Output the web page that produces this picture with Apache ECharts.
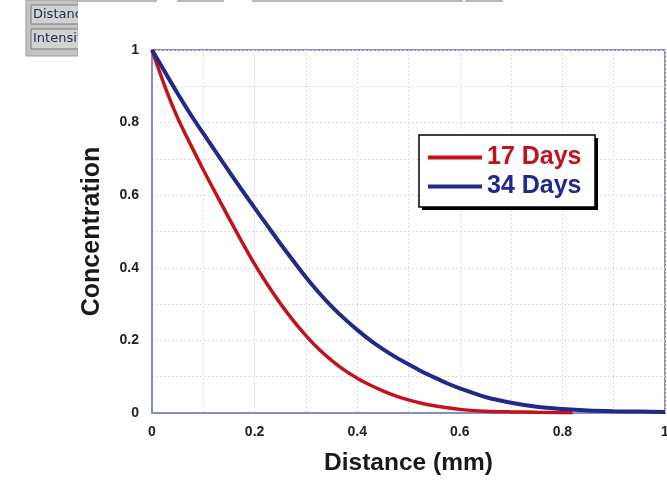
<!DOCTYPE html>
<html>
<head>
<meta charset="utf-8">
<script src="https://cdn.jsdelivr.net/npm/echarts@6/dist/echarts.min.js"></script>
<style>
html,body{margin:0;padding:0;background:#fff;}
#chart{width:667px;height:482px;}
</style>
</head>
<body>
<div id="chart"></div>
<script>
// Data
const seriesNames = ['17 Days', '34 Days'];
const distance17 = [0, 0.025, 0.05, 0.075, 0.1, 0.125, 0.15, 0.175, 0.2, 0.225, 0.25, 0.275, 0.3, 0.325, 0.35, 0.375, 0.4, 0.425, 0.45, 0.475, 0.5, 0.525, 0.55, 0.6, 0.65, 0.7, 0.75, 0.82];
const conc17     = [1, 0.9, 0.813, 0.74, 0.67, 0.603, 0.537, 0.472, 0.41, 0.354, 0.302, 0.255, 0.213, 0.176, 0.145, 0.118, 0.096, 0.077, 0.061, 0.047, 0.036, 0.027, 0.02, 0.01, 0.005, 0.003, 0.002, 0.001];
const distance34 = [0, 0.025, 0.05, 0.075, 0.1, 0.125, 0.15, 0.175, 0.2, 0.225, 0.25, 0.275, 0.3, 0.325, 0.35, 0.375, 0.4, 0.425, 0.45, 0.475, 0.5, 0.525, 0.55, 0.575, 0.6, 0.65, 0.7, 0.75, 0.8, 0.85, 0.9, 0.95, 1.0];
const conc34     = [1, 0.94, 0.88, 0.823, 0.77, 0.718, 0.666, 0.615, 0.565, 0.516, 0.467, 0.42, 0.374, 0.332, 0.294, 0.26, 0.229, 0.201, 0.176, 0.154, 0.134, 0.115, 0.098, 0.082, 0.068, 0.044, 0.028, 0.017, 0.011, 0.007, 0.005, 0.004, 0.003];
const xTickLabels = ['0', '0.2', '0.4', '0.6', '0.8', '1'];
const yTickLabels = ['0', '0.2', '0.4', '0.6', '0.8', '1'];
const panelLabels = ['Distance', 'Intensity'];

const RED = '#c4121c';
const BLUE = '#22298a';
const AXIS = '#8a8cc4';
const FONT = '"Liberation Sans", Arial, sans-serif';

function pairs(xs, ys) { return xs.map((x, i) => [x, ys[i]]); }
function tickFmt(labels) {
  return function (v) {
    const k = Math.round(v * 10);
    return (k % 2 === 0) ? labels[k / 2] : '';
  };
}

const chart = echarts.init(document.getElementById('chart'), null, {renderer: 'canvas'});

const graphics = [
  // gray panel at top-left
  {type: 'rect', shape: {x: 26, y: 0, width: 52, height: 56}, style: {fill: '#c4c4c4', stroke: '#9a9a9a', lineWidth: 1}, z: 100},
  {type: 'rect', shape: {x: 31, y: 5, width: 60, height: 19}, style: {fill: '#d2d2d2', stroke: '#7a7a7a', lineWidth: 1}, z: 101},
  {type: 'rect', shape: {x: 31, y: 29, width: 60, height: 20}, style: {fill: '#d2d2d2', stroke: '#7a7a7a', lineWidth: 1}, z: 101},
  {type: 'text', x: 33, y: 15, style: {text: panelLabels[0], fill: '#1c2b4a', font: '13px "DejaVu Sans", sans-serif', verticalAlign: 'middle'}, z: 102},
  {type: 'text', x: 33, y: 39, style: {text: panelLabels[1], fill: '#1c2b4a', font: '13px "DejaVu Sans", sans-serif', verticalAlign: 'middle'}, z: 102},
  // white area covering the panel overflow
  {type: 'rect', shape: {x: 78, y: 2, width: 46, height: 56}, style: {fill: '#ffffff'}, z: 103},
  // thin strip of boxes at the very top
  {type: 'rect', shape: {x: 78, y: 0, width: 79, height: 2}, style: {fill: '#b8b8b8'}, z: 104},
  {type: 'rect', shape: {x: 177, y: 0, width: 47, height: 2}, style: {fill: '#b8b8b8'}, z: 104},
  {type: 'rect', shape: {x: 252, y: 0, width: 211, height: 2}, style: {fill: '#b8b8b8'}, z: 104},
  {type: 'rect', shape: {x: 465, y: 0, width: 38, height: 2}, style: {fill: '#b8b8b8'}, z: 104},
  // legend frame with hard black shadow
  {type: 'rect', shape: {x: 422, y: 138, width: 176, height: 72}, style: {fill: '#000000'}, z: 1},
  {type: 'rect', shape: {x: 419, y: 135, width: 176, height: 72}, style: {fill: '#ffffff', stroke: '#000000', lineWidth: 1.5}, z: 2}
];

const option = {
  backgroundColor: '#ffffff',
  animation: false,
  grid: {
    left: 152, top: 50, width: 513, height: 363,
    outerBoundsMode: 'none',
    containLabel: false,
    show: true, borderColor: AXIS, borderWidth: 2, backgroundColor: 'transparent'
  },
  legend: {
    orient: 'vertical',
    left: 419, top: 135,
    padding: [10, 13, 7, 9],
    itemGap: 4,
    itemWidth: 54, itemHeight: 4,
    icon: 'rect',
    z: 10,
    textStyle: {fontSize: 25, fontWeight: 'bold', fontFamily: FONT},
    data: [
      {name: seriesNames[0], textStyle: {color: RED}},
      {name: seriesNames[1], textStyle: {color: BLUE}}
    ]
  },
  xAxis: {
    type: 'value', min: 0, max: 1, interval: 0.1,
    name: 'Distance (mm)', nameLocation: 'middle', nameGap: 38, nameMoveOverlap: false,
    nameTextStyle: {fontSize: 24.5, fontWeight: 'bold', color: '#1a1a1a', fontFamily: FONT},
    axisLine: {show: true, lineStyle: {color: AXIS, width: 2}},
    axisTick: {show: false},
    axisLabel: {formatter: tickFmt(xTickLabels), margin: 12, fontSize: 14, fontWeight: 'bold', color: '#222', fontFamily: FONT, showMaxLabel: true},
    splitLine: {show: true, lineStyle: {color: '#dcdce4', type: [2, 2], width: 1}}
  },
  yAxis: {
    type: 'value', min: 0, max: 1, interval: 0.1,
    name: 'Concentration', nameLocation: 'middle', nameGap: 47, nameRotate: 90, nameMoveOverlap: false,
    nameTextStyle: {fontSize: 25, fontWeight: 'bold', color: '#1a1a1a', fontFamily: FONT},
    axisLine: {show: true, lineStyle: {color: AXIS, width: 2}},
    axisTick: {show: false},
    axisLabel: {formatter: tickFmt(yTickLabels), margin: 13, fontSize: 14, fontWeight: 'bold', color: '#222', fontFamily: FONT},
    splitLine: {show: true, lineStyle: {color: '#dcdce4', type: [2, 2], width: 1}}
  },
  series: [
    {
      name: seriesNames[0], type: 'line', data: pairs(distance17, conc17),
      smooth: 0.3, showSymbol: false, symbol: 'none',
      lineStyle: {color: RED, width: 3.5}, itemStyle: {color: RED}, z: 3
    },
    {
      name: seriesNames[1], type: 'line', data: pairs(distance34, conc34),
      smooth: 0.3, showSymbol: false, symbol: 'none',
      lineStyle: {color: BLUE, width: 4}, itemStyle: {color: BLUE}, z: 4
    }
  ],
  graphic: graphics
};

chart.setOption(option);
</script>
</body>
</html>
